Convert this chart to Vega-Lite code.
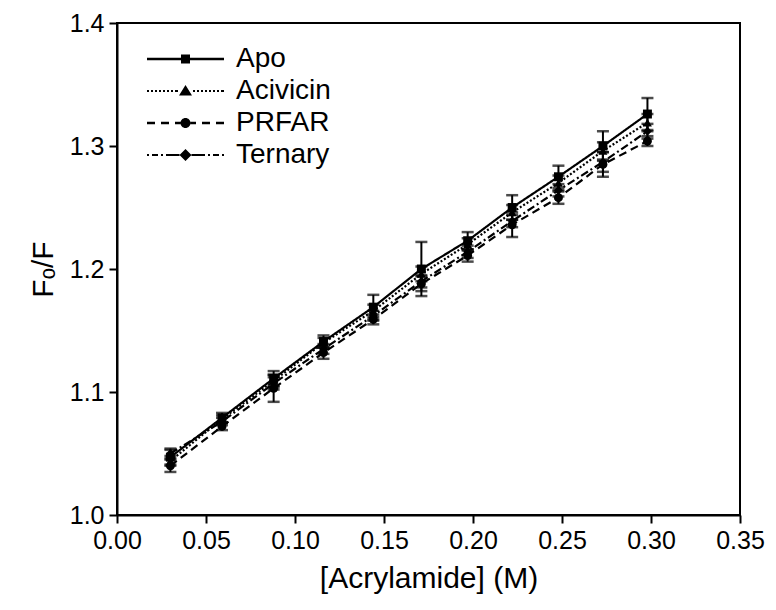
{
  "$schema": "https://vega.github.io/schema/vega-lite/v6.json",
  "autosize": "none",
  "width": 623,
  "height": 492,
  "padding": {"left": 117, "top": 23, "right": 36, "bottom": 95},
  "background": "white",
  "config": {
    "font": "Liberation Sans",
    "view": {"stroke": "black", "strokeWidth": 2},
    "axis": {
      "domainColor": "black", "domainWidth": 2, "tickColor": "black", "tickWidth": 2, "tickSize": 8,
      "labelFont": "Liberation Sans", "labelFontSize": 25, "labelColor": "black", "labelFlush": false,
      "titleFont": "Liberation Sans", "titleFontSize": 30, "titleFontWeight": "normal", "titleColor": "black",
      "grid": false
    }
  },
  "data": {"values": [
    {"series": "Apo", "x": 0.03, "y": 1.047, "err": 0.006},
    {"series": "Apo", "x": 0.059, "y": 1.079, "err": 0.004},
    {"series": "Apo", "x": 0.088, "y": 1.111, "err": 0.006},
    {"series": "Apo", "x": 0.116, "y": 1.141, "err": 0.005},
    {"series": "Apo", "x": 0.144, "y": 1.169, "err": 0.01},
    {"series": "Apo", "x": 0.171, "y": 1.2, "err": 0.022},
    {"series": "Apo", "x": 0.197, "y": 1.223, "err": 0.007},
    {"series": "Apo", "x": 0.222, "y": 1.25, "err": 0.01},
    {"series": "Apo", "x": 0.248, "y": 1.275, "err": 0.009},
    {"series": "Apo", "x": 0.273, "y": 1.3, "err": 0.012},
    {"series": "Apo", "x": 0.298, "y": 1.326, "err": 0.013},
    {"series": "Acivicin", "x": 0.03, "y": 1.044, "err": 0.004},
    {"series": "Acivicin", "x": 0.059, "y": 1.078, "err": 0.003},
    {"series": "Acivicin", "x": 0.088, "y": 1.109, "err": 0.005},
    {"series": "Acivicin", "x": 0.116, "y": 1.14, "err": 0.004},
    {"series": "Acivicin", "x": 0.144, "y": 1.166, "err": 0.005},
    {"series": "Acivicin", "x": 0.171, "y": 1.196, "err": 0.006},
    {"series": "Acivicin", "x": 0.197, "y": 1.22, "err": 0.005},
    {"series": "Acivicin", "x": 0.222, "y": 1.246, "err": 0.006},
    {"series": "Acivicin", "x": 0.248, "y": 1.27, "err": 0.006},
    {"series": "Acivicin", "x": 0.273, "y": 1.296, "err": 0.007},
    {"series": "Acivicin", "x": 0.298, "y": 1.319, "err": 0.007},
    {"series": "PRFAR", "x": 0.03, "y": 1.04, "err": 0.005},
    {"series": "PRFAR", "x": 0.059, "y": 1.072, "err": 0.003},
    {"series": "PRFAR", "x": 0.088, "y": 1.103, "err": 0.011},
    {"series": "PRFAR", "x": 0.116, "y": 1.132, "err": 0.005},
    {"series": "PRFAR", "x": 0.144, "y": 1.159, "err": 0.004},
    {"series": "PRFAR", "x": 0.171, "y": 1.188, "err": 0.006},
    {"series": "PRFAR", "x": 0.197, "y": 1.211, "err": 0.005},
    {"series": "PRFAR", "x": 0.222, "y": 1.236, "err": 0.01},
    {"series": "PRFAR", "x": 0.248, "y": 1.258, "err": 0.005},
    {"series": "PRFAR", "x": 0.273, "y": 1.285, "err": 0.01},
    {"series": "PRFAR", "x": 0.298, "y": 1.304, "err": 0.004},
    {"series": "Ternary", "x": 0.03, "y": 1.05, "err": 0.004},
    {"series": "Ternary", "x": 0.059, "y": 1.076, "err": 0.003},
    {"series": "Ternary", "x": 0.088, "y": 1.107, "err": 0.005},
    {"series": "Ternary", "x": 0.116, "y": 1.135, "err": 0.004},
    {"series": "Ternary", "x": 0.144, "y": 1.162, "err": 0.004},
    {"series": "Ternary", "x": 0.171, "y": 1.19, "err": 0.005},
    {"series": "Ternary", "x": 0.197, "y": 1.214, "err": 0.005},
    {"series": "Ternary", "x": 0.222, "y": 1.239, "err": 0.005},
    {"series": "Ternary", "x": 0.248, "y": 1.264, "err": 0.005},
    {"series": "Ternary", "x": 0.273, "y": 1.287, "err": 0.008},
    {"series": "Ternary", "x": 0.298, "y": 1.312, "err": 0.006}
  ]},
  "encoding": {
    "x": {"field": "x", "type": "quantitative", "scale": {"domain": [0, 0.35], "nice": false, "zero": false},
      "axis": {"title": "[Acrylamide] (M)", "values": [0, 0.05, 0.1, 0.15, 0.2, 0.25, 0.3, 0.35], "format": ".2f", "labelPadding": 5, "titlePadding": 10}},
    "y": {"field": "y", "type": "quantitative", "scale": {"domain": [1.0, 1.4], "nice": false, "zero": false},
      "axis": {"title": "Fₒ/F", "values": [1.0, 1.1, 1.2, 1.3, 1.4], "format": ".1f", "labelPadding": 5, "titlePadding": 11}}
  },
  "layer": [
    {
      "mark": {"type": "errorbar", "ticks": {"size": 12, "thickness": 2.5, "color": "black"}, "thickness": 2, "color": "black"},
      "encoding": {"yError": {"field": "err"}, "detail": {"field": "series"}}
    },
    {
      "mark": {"type": "line", "color": "black", "strokeWidth": 2.2},
      "encoding": {
        "detail": {"field": "series"},
        "strokeDash": {"field": "series", "type": "nominal", "legend": null,
          "scale": {"domain": ["Apo", "Acivicin", "PRFAR", "Ternary"], "range": [[1, 0], [2, 2], [8, 5], [8, 3, 2, 3]]}}
      }
    },
    {
      "mark": {"type": "point", "filled": true, "color": "black", "opacity": 1, "size": 80},
      "encoding": {
        "shape": {"field": "series", "type": "nominal", "legend": null,
          "scale": {"domain": ["Apo", "Acivicin", "PRFAR", "Ternary"], "range": ["square", "triangle-up", "circle", "diamond"]}}
      }
    },
    {
      "mark": {"type": "point", "filled": true, "color": "black", "opacity": 0, "size": 4},
      "encoding": {
        "shape": {"field": "series", "type": "nominal",
          "scale": {"domain": ["Apo", "Acivicin", "PRFAR", "Ternary"], "range": [
            "M0,-1.2H34V1.2H0Z M43,-1.2H77V1.2H43Z M34,-4.5H43V4.5H34Z",
            "M0,-1.1h2v2.2h-2z M4,-1.1h2v2.2h-2z M8,-1.1h2v2.2h-2z M12,-1.1h2v2.2h-2z M16,-1.1h2v2.2h-2z M20,-1.1h2v2.2h-2z M24,-1.1h2v2.2h-2z M28,-1.1h3v2.2h-3z M46,-1.1h2v2.2h-2z M50,-1.1h2v2.2h-2z M54,-1.1h2v2.2h-2z M58,-1.1h2v2.2h-2z M62,-1.1h2v2.2h-2z M66,-1.1h2v2.2h-2z M70,-1.1h2v2.2h-2z M74,-1.1h3v2.2h-3z M38.5,-6L45,4.5H32Z",
            "M0,-1.2h8v2.4h-8z M14,-1.2h8v2.4h-8z M28,-1.2h5.5v2.4h-5.5z M43.5,-1.2h5.5v2.4h-5.5z M55,-1.2h8v2.4h-8z M69,-1.2h8v2.4h-8z M33.5,0A5,5 0 1,0 43.5,0A5,5 0 1,0 33.5,0Z",
            "M0,-1.1h2v2.2h-2z M5,-1.1h6v2.2h-6z M14,-1.1h2v2.2h-2z M19,-1.1h13.5v2.2h-13.5z M44.5,-1.1h13.5v2.2h-13.5z M61,-1.1h2v2.2h-2z M66,-1.1h6v2.2h-6z M75,-1.1h2v2.2h-2z M38.5,-6L44.5,0L38.5,6L32.5,0Z"
          ]},
          "legend": {"orient": "none", "legendX": 16, "legendY": 22, "title": null, "padding": 0, "symbolSize": 4, "symbolStrokeWidth": 0,
            "symbolFillColor": "black", "labelFont": "Liberation Sans", "labelFontSize": 28, "labelColor": "black",
            "labelOffset": 75, "rowPadding": 4, "symbolOpacity": 1}
        }
      }
    }
  ],
  "resolve": {"scale": {"shape": "independent"}, "legend": {"shape": "independent"}}
}
